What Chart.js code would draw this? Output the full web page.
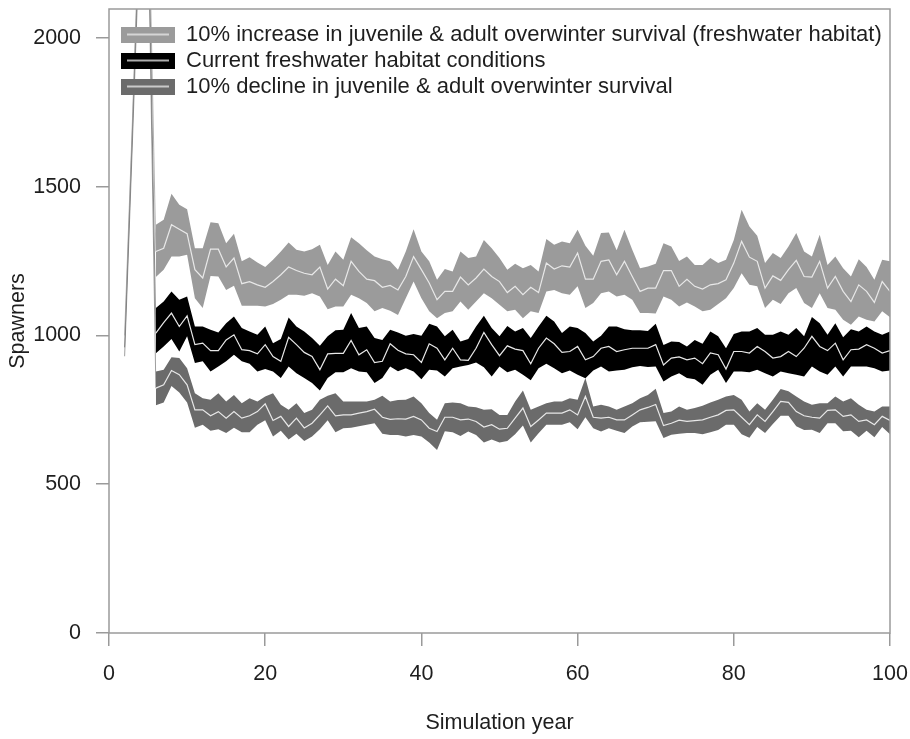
<!DOCTYPE html>
<html><head><meta charset="utf-8">
<script src="https://cdn.jsdelivr.net/npm/chart.js@4.4.1/dist/chart.umd.min.js"></script>
<style>html,body{margin:0;padding:0;background:#fff;}#wrap{width:910px;height:739px;}</style>
</head><body><div id="wrap"><canvas id="c" width="910" height="739"></canvas></div>
<script>
const scenarioLabels = [
  "10% increase in juvenile & adult overwinter survival (freshwater habitat)",
  "Current freshwater habitat conditions",
  "10% decline in juvenile & adult overwinter survival"
];
const xTitle = "Simulation year";
const yTitle = "Spawners";
const xTickValues = [0, 20, 40, 60, 80, 100];
const yTickValues = [0, 500, 1000, 1500, 2000];

const bandYears = [6,7,8,9,10,11,12,13,14,15,16,17,18,19,20,21,22,23,24,25,26,27,28,29,30,31,32,33,34,35,36,37,38,39,40,41,42,43,44,45,46,47,48,49,50,51,52,53,54,55,56,57,58,59,60,61,62,63,64,65,66,67,68,69,70,71,72,73,74,75,76,77,78,79,80,81,82,83,84,85,86,87,88,89,90,91,92,93,94,95,96,97,98,99,100];

const increaseUpper = [1372,1389,1476,1439,1424,1293,1293,1380,1377,1310,
  1342,1249,1263,1245,1230,1254,1282,1312,1288,1282,
  1290,1305,1237,1282,1254,1330,1310,1286,1265,1256,
  1249,1221,1282,1357,1282,1249,1187,1223,1215,1282,
  1260,1265,1321,1293,1260,1221,1241,1226,1237,1215,
  1324,1305,1316,1310,1355,1301,1268,1344,1346,1286,
  1355,1288,1226,1232,1241,1310,1299,1250,1265,1237,
  1237,1260,1243,1254,1321,1422,1366,1335,1243,1277,
  1260,1299,1344,1282,1265,1338,1237,1265,1226,1198,
  1256,1230,1187,1254,1249];
const increaseLower = [1196,1221,1265,1265,1271,1125,1092,1200,1198,1153,
  1167,1100,1100,1100,1097,1106,1120,1137,1137,1133,
  1142,1131,1088,1097,1097,1137,1125,1109,1081,1092,
  1083,1069,1125,1181,1125,1081,1058,1075,1081,1114,
  1086,1114,1142,1125,1103,1081,1086,1058,1081,1075,
  1148,1153,1142,1137,1165,1092,1109,1142,1148,1131,
  1137,1120,1075,1075,1074,1131,1120,1097,1111,1097,
  1081,1086,1106,1125,1159,1209,1170,1165,1092,1120,
  1106,1142,1159,1109,1092,1142,1092,1086,1053,1036,
  1064,1053,1047,1081,1061];
const increaseMedian = [1282,1293,1372,1357,1342,1221,1193,1290,1290,1230,
  1260,1174,1181,1170,1162,1181,1204,1230,1218,1209,
  1204,1230,1156,1189,1167,1249,1215,1189,1184,1162,
  1168,1153,1198,1265,1221,1176,1120,1148,1148,1196,
  1170,1193,1223,1198,1181,1144,1165,1137,1162,1144,
  1243,1223,1234,1230,1277,1189,1189,1249,1254,1204,
  1249,1198,1148,1159,1159,1218,1218,1165,1189,1165,
  1156,1170,1174,1187,1243,1316,1263,1249,1159,1200,
  1185,1221,1252,1198,1196,1249,1159,1198,1148,1114,
  1170,1148,1111,1181,1148];

const currentUpper = [1092,1114,1148,1120,1131,1030,1030,1019,1010,1041,
  1064,1025,1013,1002,1030,974,988,1060,1030,1013,
  991,965,997,1017,1019,1075,1025,1030,991,985,
  1019,1010,999,1005,999,1039,1030,997,1019,980,
  988,1030,1066,1025,997,1032,1013,1025,991,1030,
  1066,1047,1008,1030,1025,1008,980,999,1030,1030,
  1021,1017,1017,1015,1039,968,980,978,963,985,
  972,1013,997,957,1005,1013,1013,1025,1002,1002,
  1013,1002,1025,997,1062,1041,1002,1041,994,1021,
  1013,1030,1013,1002,1013];
const currentLower = [940,963,988,946,997,907,913,879,896,913,
  935,913,905,879,887,879,857,896,873,857,
  840,815,857,876,876,890,879,876,840,857,
  896,880,890,879,853,885,882,862,890,896,
  901,909,893,862,896,876,885,868,849,890,
  905,890,873,882,868,856,882,896,879,882,
  885,893,897,894,896,845,862,873,857,853,
  834,868,885,840,879,879,876,885,873,862,
  879,873,868,862,896,879,868,896,862,896,
  896,896,890,879,882];
const currentMedian = [1008,1043,1075,1030,1066,969,974,949,949,985,
  1002,952,949,938,969,929,913,994,969,943,
  929,885,938,940,940,983,935,952,909,913,
  972,950,938,935,909,972,957,918,957,918,
  916,957,1010,969,932,965,954,949,905,957,
  991,972,943,946,963,918,929,957,963,946,
  952,957,957,957,969,901,924,928,918,924,
  905,941,935,887,946,946,941,963,946,924,
  929,946,929,957,997,963,949,974,918,952,
  954,969,957,941,949];

const declineUpper = [879,885,927,924,890,806,789,784,806,778,
  800,772,789,778,795,806,767,750,772,739,
  750,784,797,806,778,778,778,778,784,797,
  778,783,784,795,772,739,717,772,775,772,
  761,759,750,752,733,733,778,815,750,761,
  772,778,778,789,784,857,761,767,761,750,
  761,772,789,800,821,739,744,761,750,756,
  764,775,784,795,800,784,744,772,750,784,
  820,812,795,778,767,772,772,795,778,789,
  767,750,744,761,761];
const declineLower = [765,775,830,808,775,690,700,680,685,672,
  690,675,675,700,715,660,680,650,670,645,
  660,685,715,675,688,690,695,700,705,670,
  665,665,660,665,660,640,615,678,675,662,
  677,665,640,650,640,645,668,697,640,671,
  700,700,700,708,685,725,688,677,688,680,
  672,694,708,710,712,655,666,670,672,672,
  668,675,682,700,700,668,656,692,672,702,
  730,730,695,682,683,672,705,705,678,680,
  658,680,658,692,668];
const declineMedian = [823,834,882,868,834,750,750,730,744,722,
  744,722,730,744,770,714,728,694,722,689,
  705,733,763,730,733,733,739,744,752,725,
  718,720,719,728,716,688,677,725,725,716,
  719,711,692,700,685,688,722,756,694,716,
  739,739,739,750,733,795,725,722,725,716,
  716,733,750,758,768,697,705,715,711,714,
  716,725,733,748,750,725,700,733,711,744,
  778,775,744,730,725,722,748,750,728,733,
  711,716,700,728,714];

// early transient years (run off the top of the plot)
const spikeYears = [2, 3, 4, 5, 6];
const spikeIncrease = [1000, 1720, 2500, 2550, 1282];
const spikeCurrent = [960, 1690, 2450, 2480, 1008];
const spikeDecline = [930, 1650, 2400, 2420, 823];

const bandColors = ['#9b9b9b', '#000000', '#6b6b6b'];
const spikeColors = ['rgba(150,150,150,0.8)', 'rgba(90,90,90,0.75)', 'rgba(120,120,120,0.8)'];
const medianColor = '#e8e8e8';
const FONT = "'Liberation Sans', Arial, Helvetica, sans-serif";
const textColor = '#1e1e1e';
const axisColor = '#9a9a9a';

function pts(xs, ys) { return xs.map((x, i) => ({x: x, y: ys[i]})); }

const bandSets = [
  [increaseUpper, increaseLower, increaseMedian, spikeIncrease],
  [currentUpper, currentLower, currentMedian, spikeCurrent],
  [declineUpper, declineLower, declineMedian, spikeDecline]
];

const datasets = [];
bandSets.forEach((s, k) => {
  datasets.push({label: scenarioLabels[k] + ' upper', data: pts(bandYears, s[0]), borderWidth: 0, borderColor: bandColors[k],
    backgroundColor: bandColors[k], fill: '+1', pointRadius: 0, order: 1});
  datasets.push({label: scenarioLabels[k] + ' lower', data: pts(bandYears, s[1]), borderWidth: 0, borderColor: bandColors[k],
    backgroundColor: bandColors[k], fill: false, pointRadius: 0, order: 1});
  datasets.push({label: scenarioLabels[k], data: pts(bandYears, s[2]), borderWidth: 1.2, borderColor: medianColor,
    fill: false, pointRadius: 0, order: 0});
  datasets.push({label: scenarioLabels[k] + ' transient', data: pts(spikeYears, s[3]), borderWidth: 0.9, borderColor: spikeColors[k],
    fill: false, pointRadius: 0, order: 2});
});

function makePatch(fill) {
  const c = document.createElement('canvas');
  c.width = 62; c.height = 16;
  const g = c.getContext('2d');
  g.fillStyle = fill; g.fillRect(8, 0, 54, 16);
  g.strokeStyle = medianColor; g.lineWidth = 1.6;
  g.beginPath(); g.moveTo(14, 8); g.lineTo(56, 8); g.stroke();
  return c;
}
const patches = bandColors.map(makePatch);

const boxPlugin = {
  id: 'frameBox',
  beforeLayout(chart) {
    if (chart.legend && !chart.legend.__onTop) {
      const lg = chart.legend;
      lg._layers = () => [{z: 1, draw: (ca) => lg.draw(ca)}];
      lg.__onTop = true;
    }
  },
  afterDraw(chart) {
    const {ctx, chartArea: a} = chart;
    ctx.save();
    ctx.strokeStyle = axisColor; ctx.lineWidth = 1.5;
    ctx.strokeRect(a.left, a.top, a.right - a.left, a.bottom - a.top);
    ctx.restore();
  }
};

const noComma = (v) => String(v);

new Chart(document.getElementById('c'), {
  type: 'line',
  data: {datasets: datasets},
  plugins: [boxPlugin],
  options: {
    responsive: false,
    animation: false,
    devicePixelRatio: 1,
    layout: {padding: {top: 9, right: 20, left: 0, bottom: 0}},
    elements: {line: {tension: 0}, point: {radius: 0}},
    plugins: {
      tooltip: {enabled: false},
      legend: {
        display: true,
        position: 'chartArea',
        align: 'start',
        onClick: null,
        title: {display: true, text: '', font: {size: 1, lineHeight: 1}, padding: {top: 0, bottom: 18.5}},
        labels: {
          usePointStyle: true,
          pointStyleWidth: 62,
          padding: 4,
          color: textColor,
          font: {family: FONT, size: 22},
          generateLabels: () => scenarioLabels.map((t, i) => ({
            text: t, pointStyle: patches[i], fillStyle: bandColors[i], strokeStyle: bandColors[i],
            lineWidth: 0, hidden: false, datasetIndex: i * 4 + 2, fontColor: textColor
          }))
        }
      }
    },
    scales: {
      x: {
        type: 'linear', min: 0, max: 100,
        afterBuildTicks: (s) => { s.ticks = xTickValues.map(v => ({value: v})); },
        afterFit: (s) => { s.height = 106; s.paddingLeft = 0; s.paddingRight = 0; },
        grid: {display: true, drawOnChartArea: false, drawTicks: true, tickLength: 13, color: axisColor, lineWidth: 1.5},
        border: {display: false},
        ticks: {padding: 15, color: textColor, font: {family: FONT, size: 21.5}, maxRotation: 0, autoSkip: false, callback: noComma},
        title: {display: true, text: xTitle, color: textColor, font: {family: FONT, size: 21.5}, padding: {top: 0, bottom: 3}}
      },
      y: {
        type: 'linear', min: 0, max: 2097,
        afterBuildTicks: (s) => { s.ticks = yTickValues.map(v => ({value: v})); },
        afterFit: (s) => { s.width = 109; s.paddingTop = 0; s.paddingBottom = 0; },
        grid: {display: true, drawOnChartArea: false, drawTicks: true, tickLength: 13, color: axisColor, lineWidth: 1.5},
        border: {display: false},
        ticks: {padding: 15, color: textColor, font: {family: FONT, size: 21.5}, autoSkip: false, callback: noComma},
        title: {display: true, text: yTitle, color: textColor, font: {family: FONT, size: 21.5}, padding: {top: 5, bottom: 0}}
      }
    }
  }
});
</script></body></html>
